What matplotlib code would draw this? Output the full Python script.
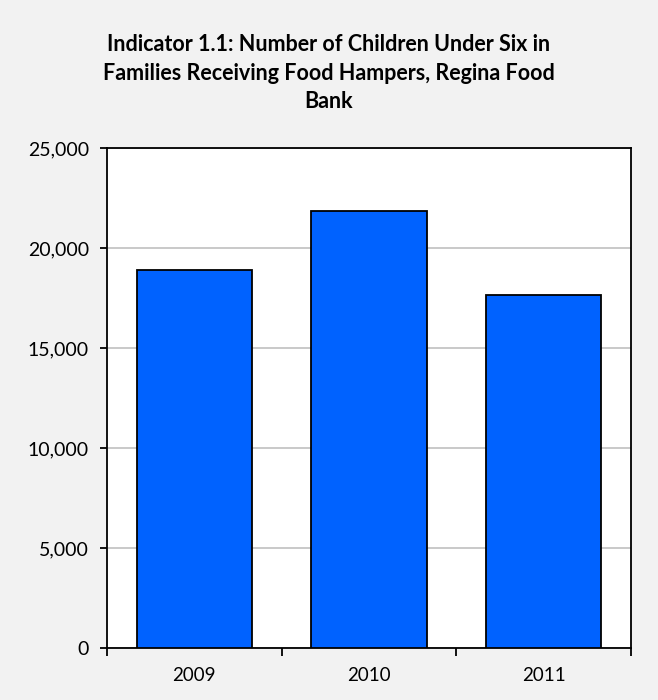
import matplotlib
matplotlib.use("Agg")
import matplotlib.pyplot as plt
from matplotlib.ticker import FuncFormatter, MultipleLocator

years = ["2009", "2010", "2011"]
children = [18900, 21850, 17650]

title = ("Indicator 1.1: Number of Children Under Six in\n"
         "Families Receiving Food Hampers, Regina Food\n"
         "Bank")

plt.rcParams["font.family"] = ["Lato", "DejaVu Sans"]

fig = plt.figure(figsize=(6.58, 7.0), dpi=100, facecolor="#f2f2f2")
ax = fig.add_axes([107 / 658, 1 - 648 / 700, (631 - 107) / 658, (648 - 148) / 700])
ax.set_facecolor("white")

x = list(range(len(years)))
ax.bar(x, children, width=0.66, color="#0062ff", edgecolor="black",
       linewidth=1.3, zorder=3)

ax.set_xlim(-0.5, len(years) - 0.5)
ax.set_ylim(0, 25000)
ax.yaxis.set_major_locator(MultipleLocator(5000))
ax.yaxis.set_major_formatter(FuncFormatter(lambda v, p: f"{int(v):,}"))
ax.grid(axis="y", color="#c0c0c0", linewidth=1.2, zorder=0)

# category labels centred under bars, tick marks at category boundaries
ax.set_xticks(x)
ax.set_xticklabels(years)
ax.tick_params(axis="x", which="major", length=0, pad=14, labelsize=13.5)
ax.set_xticks([i - 0.5 for i in range(len(years) + 1)], minor=True)
ax.tick_params(axis="x", which="minor", length=6, width=1.3, direction="out")
ax.tick_params(axis="y", length=5, width=1.3, direction="out", pad=8, labelsize=14)

for s in ax.spines.values():
    s.set_linewidth(1.3)
    s.set_color("black")

fig.text(0.5, 1 - 73 / 700, title, ha="center", va="center",
         fontsize=15.5, fontweight="bold", linespacing=1.45)

fig.savefig("out.png", dpi=100, facecolor=fig.get_facecolor())
